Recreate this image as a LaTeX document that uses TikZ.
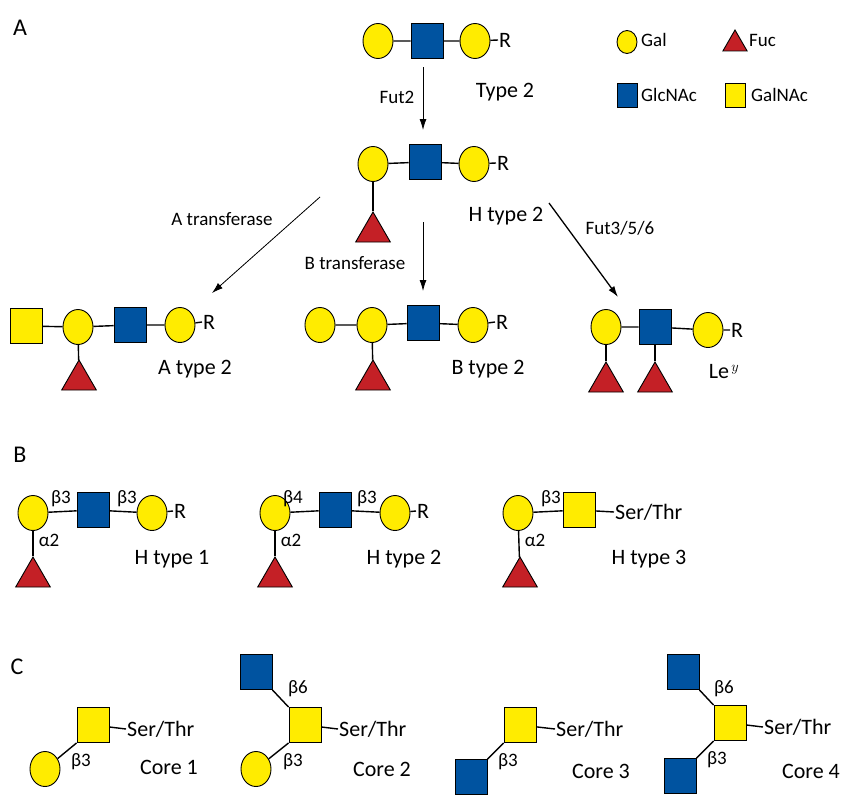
\documentclass[tikz,border=0pt]{standalone}
\usepackage{fontspec}
\setmainfont{Carlito}
\usetikzlibrary{shapes.geometric,backgrounds,arrows.meta}
\definecolor{gy}{RGB}{255,236,0}
\definecolor{gb}{RGB}{0,83,160}
\definecolor{gr}{RGB}{196,32,38}
\tikzset{
 gal/.style={ellipse,draw,line width=0.9pt,fill=gy,minimum width=30pt,minimum height=35pt,inner sep=0},
 glc/.style={rectangle,draw,line width=0.9pt,fill=gb,minimum width=32pt,minimum height=35pt,inner sep=0},
 gna/.style={glc,fill=gy},
 fuc/.style={regular polygon,regular polygon sides=3,draw,line width=0.9pt,fill=gr,minimum size=40pt,inner sep=0},
 sgal/.style={gal,minimum width=20pt,minimum height=23pt},
 sglc/.style={glc,minimum width=20pt,minimum height=24pt},
 sgna/.style={sglc,fill=gy},
 sfuc/.style={fuc,minimum size=28pt},
 lk/.style={line width=1.4pt},
 lb/.style={font=\fontsize{22}{22}\selectfont,inner sep=1pt},
 sm/.style={font=\fontsize{19}{19}\selectfont,inner sep=1pt},
 gr2/.style={font=\fontsize{19}{19}\selectfont,inner sep=1pt},
 big/.style={font=\fontsize{24}{24}\selectfont},
 ar/.style={-{Latex[length=11pt,width=7pt]},line width=0.8pt}
}
\begin{document}
\begin{tikzpicture}[x=1pt,y=-1pt]
\useasboundingbox (0,0) rectangle (856,800);
% section A
\node[big] (LA) at (20,28) {A};
\node[gal] (t1) at (378,41) {};
\node[glc] (t2) at (427,41) {};
\node[gal] (t3) at (475,41) {};
\node[lb,anchor=west] (tR) at (498,40) {R};
\node[lb] (tT) at (505,92) {Type 2};
% legend
\node[sgal] (lg1) at (627,42) {}; \node[sm,anchor=west] (lg1t) at (640,40) {Gal};
\node[sfuc] (lg2) at (735,44) {}; \node[sm,anchor=west] (lg2t) at (748,40) {Fuc};
\node[sglc] (lg3) at (627,95) {}; \node[sm,anchor=west] (lg3t) at (640,95) {GlcNAc};
\node[sgna] (lg4) at (735,95) {}; \node[sm,anchor=west] (lg4t) at (750,95) {GalNAc};
% H type 2
\node[gal] (h1) at (373,164) {};
\node[glc] (h2) at (425,162) {};
\node[gal] (h3) at (474,164) {};
\node[lb,anchor=west] (hR) at (496,163) {R};
\node[fuc] (hf) at (373,232) {};
\node[lb] (hT) at (506,216) {H type 2};
% arrows
\coordinate (a0) at (423,67); \coordinate (a1) at (423,130);
\draw[ar] (a0) -- (a1);
\node[sm] (f2) at (397,97) {Fut2};
\coordinate (b0) at (320,197); \coordinate (b1) at (212,293);
\draw[ar] (b0) -- (b1);
\node[sm] (atr) at (222,219) {A transferase};
\coordinate (c0) at (423,222); \coordinate (c1) at (423,291);
\draw[ar] (c0) -- (c1);
\node[sm] (btr) at (355,263) {B transferase};
\coordinate (d0) at (549,203); \coordinate (d1) at (618,297);
\draw[ar,line width=1.3pt] (d0) -- (d1);
\node[sm] (f356) at (620,228) {Fut3/5/6};
% A type 2
\node[gna] (A1) at (26,326) {};
\node[gal] (A2) at (78,327) {};
\node[glc] (A3) at (130,325) {};
\node[gal] (A4) at (180,325) {};
\node[lb,anchor=west] (AR) at (202,322) {R};
\node[fuc] (Af) at (79,380) {};
\node[lb] (AT) at (195,369) {A type 2};
% B type 2
\node[gal] (B1) at (320,325) {};
\node[gal] (B2) at (372,325) {};
\node[glc] (B3) at (423,323) {};
\node[gal] (B4) at (473,325) {};
\node[lb,anchor=west] (BR) at (495,322) {R};
\node[fuc] (Bf) at (373,380) {};
\node[lb] (BT) at (488,369) {B type 2};
% Le y
\node[gal] (L1) at (606,327) {};
\node[glc] (L2) at (655,327) {};
\node[gal] (L3) at (708,330) {};
\node[lb,anchor=west] (LR) at (730,330) {R};
\node[fuc] (Lf1) at (606,382) {};
\node[fuc] (Lf2) at (655,382) {};
\node[lb] (LT) at (724,372) {Le$^{\,y}$};
% section B
\node[big] (LB) at (20,455) {B};
\node[gal] (p1) at (33,513) {};
\node[glc] (p2) at (93,510) {};
\node[gal] (p3) at (152,513) {};
\node[lb,anchor=west] (pR) at (173,511) {R};
\node[fuc] (pf) at (33,577) {};
\node[gr2] at (61,499) {β3}; \node[gr2] at (127,499) {β3}; \node[gr2] at (49,540) {α2};
\node[lb] (pT) at (172,559) {H type 1};
\node[gal] (q1) at (275,513) {};
\node[glc] (q2) at (335,510) {};
\node[gal] (q3) at (395,513) {};
\node[lb,anchor=west] (qR) at (416,511) {R};
\node[fuc] (qf) at (275,577) {};
\node[gr2] at (293,499) {β4}; \node[gr2] at (367,499) {β3}; \node[gr2] at (291,540) {α2};
\node[lb] (qT) at (404,559) {H type 2};
\node[gal] (r1) at (518,513) {};
\node[gna] (r2) at (579,510) {};
\node[lb,anchor=west] (rS) at (614,512) {Ser/Thr};
\node[fuc] (rf) at (520,577) {};
\node[gr2] at (551,499) {β3}; \node[gr2] at (535,540) {α2};
\node[lb] (rT) at (649,559) {H type 3};
% section C
\node[big] (LC) at (17,667) {C};
% core 1
\node[gna] (c1a) at (93,725) {};
\node[gal] (c1b) at (45,769) {};
\node[lb,anchor=west] (c1s) at (126,729) {Ser/Thr};
\node[gr2] at (81,762) {β3};
\node[lb] (c1t) at (169,767) {Core 1};
% core 2
\node[glc] (c2n) at (256,672) {};
\node[gna] (c2a) at (305,725) {};
\node[gal] (c2b) at (256,769) {};
\node[lb,anchor=west] (c2s) at (338,729) {Ser/Thr};
\node[gr2] at (298,689) {β6}; \node[gr2] at (293,762) {β3};
\node[lb] (c2t) at (382,769) {Core 2};
% core 3
\node[gna] (c3a) at (520,725) {};
\node[glc] (c3b) at (471,777) {};
\node[lb,anchor=west] (c3s) at (555,729) {Ser/Thr};
\node[gr2] at (508,762) {β3};
\node[lb] (c3t) at (601,771) {Core 3};
% core 4
\node[glc] (c4n) at (683,672) {};
\node[gna] (c4a) at (730,723) {};
\node[glc] (c4b) at (680,776) {};
\node[lb,anchor=west] (c4s) at (763,727) {Ser/Thr};
\node[gr2] at (724,689) {β6}; \node[gr2] at (717,760) {β3};
\node[lb] (c4t) at (811,771) {Core 4};
\begin{pgfonlayer}{background}
\draw[lk] (t1) -- (t2) -- (t3) -- (tR.west);
\draw[lk] (h1) -- (h2) -- (h3) -- (hR.west);
\draw[lk] (h1) -- (hf);
\draw[lk] (A1) -- (A2) -- (A3) -- (A4) -- (AR.west);
\draw[lk] (A2) -- (Af);
\draw[lk] (B1) -- (B2) -- (B3) -- (B4) -- (BR.west);
\draw[lk] (B2) -- (Bf);
\draw[lk] (L1) -- (L2) -- (L3) -- (LR.west);
\draw[lk] (L1) -- (Lf1); \draw[lk] (L2) -- (Lf2);
\draw[lk] (p1) -- (p2) -- (p3) -- (pR.west); \draw[lk] (p1) -- (pf);
\draw[lk] (q1) -- (q2) -- (q3) -- (qR.west); \draw[lk] (q1) -- (qf);
\draw[lk] (r1) -- (r2) -- (rS.west); \draw[lk] (r1) -- (rf);
\draw[lk] (c1a.south west) -- (c1b); \draw[lk] (c1a) -- (c1s.west);
\draw[lk] (c2a.south west) -- (c2b); \draw[lk] (c2a.north west) -- (c2n.south east); \draw[lk] (c2a) -- (c2s.west);
\draw[lk] (c3a.south west) -- (c3b.north east); \draw[lk] (c3a) -- (c3s.west);
\draw[lk] (c4a.south west) -- (c4b.north east); \draw[lk] (c4a.north west) -- (c4n.south east); \draw[lk] (c4a) -- (c4s.west);
\end{pgfonlayer}
\end{tikzpicture}
\end{document}
